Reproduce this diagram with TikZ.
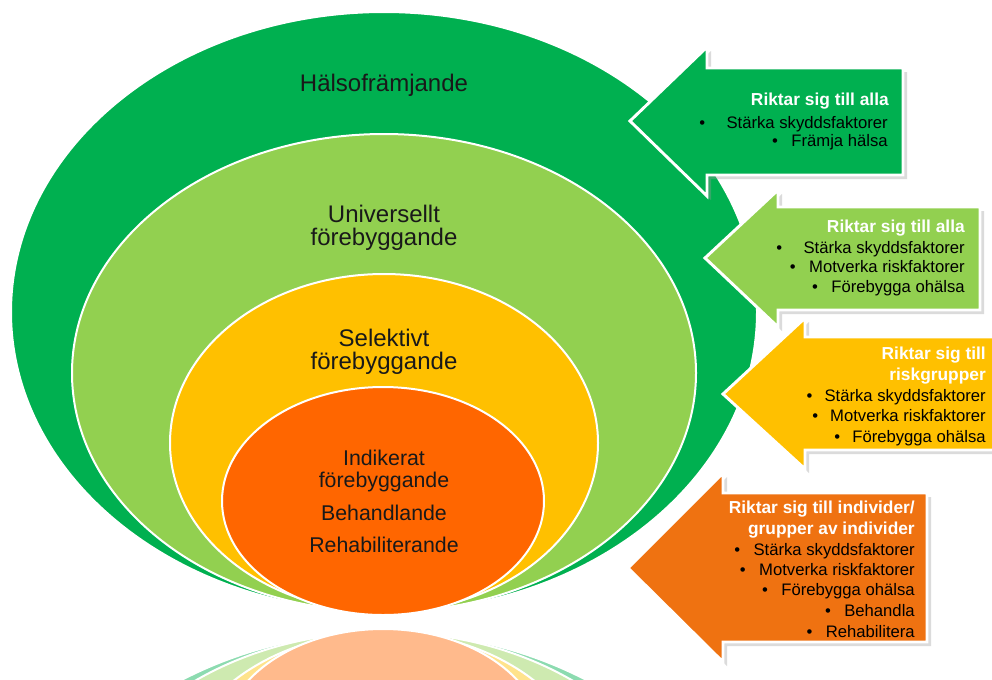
\documentclass[tikz,border=0pt]{standalone}
\usepackage{fontspec}
\setmainfont{Liberation Sans}
\definecolor{dkgreen}{HTML}{00B050}
\definecolor{ltgreen}{HTML}{92D050}
\definecolor{ylw}{HTML}{FFC000}
\definecolor{orng}{HTML}{FF6600}
\definecolor{orarrow}{HTML}{EF7211}
\begin{document}
\begin{tikzpicture}[x=0.75pt,y=-0.75pt,
  ell/.style={draw=white, line width=1.5pt},
  refl/.style={draw=white, line width=1.5pt},
  blk/.style={draw=white, line width=2.2pt, line join=miter},
  shd/.style={fill=black!40, opacity=0.35, draw=none},
  lab/.style={font=\fontsize{18}{22}\selectfont, inner sep=0pt, anchor=base, text=black!90},
  labs/.style={font=\fontsize{16}{20}\selectfont, inner sep=0pt, anchor=base, text=black!90},
  hdr/.style={font=\fontsize{13}{15}\selectfont\bfseries, text=white, inner sep=0pt, anchor=base east},
  bul/.style={font=\fontsize{12.5}{15}\selectfont, text=black, inner sep=0pt, anchor=base east}]
\useasboundingbox (0,0) rectangle (992,679);
\fill[white] (0,0) rectangle (992,679);

% nested ellipses
\draw[ell, fill=dkgreen] (384,312) ellipse [x radius=373, y radius=300];
\draw[ell, fill=ltgreen] (384,373) ellipse [x radius=312, y radius=239];
\draw[ell, fill=ylw] (384,443) ellipse [x radius=214, y radius=169];
\draw[ell, fill=orng] (383,501) ellipse [x radius=161, y radius=114];

% reflection
\begin{scope}
\clip (0,621) rectangle (992,679);
\draw[refl, fill=dkgreen!45!white] (384,932) ellipse [x radius=373, y radius=300];
\draw[refl, fill=ltgreen!45!white] (384,871) ellipse [x radius=312, y radius=239];
\draw[refl, fill=ylw!45!white] (384,801) ellipse [x radius=214, y radius=169];
\draw[refl, fill=orng!45!white] (383,743) ellipse [x radius=161, y radius=114];
\end{scope}

% ellipse labels
\node[lab] (halso) at (384,91) {Hälsofrämjande};
\node[lab] (univ1) at (384,222) {Universellt};
\node[lab] (univ2) at (384,245) {förebyggande};
\node[lab] (sel1) at (384,346) {Selektivt};
\node[lab] (sel2) at (384,369) {förebyggande};
\node[labs] (ind1) at (384,465) {Indikerat};
\node[labs] (ind2) at (384,487) {förebyggande};
\node[labs] (beh) at (384,520) {Behandlande};
\node[labs] (reh) at (384,552) {Rehabiliterande};

% arrow 1
\fill[shd] (634,125) -- (711,51) -- (711,72) -- (907,72) -- (907,179) -- (711,179) -- (711,200) -- cycle;
\draw[blk, fill=dkgreen] (630,121) -- (707,47) -- (707,68) -- (903,68) -- (903,175) -- (707,175) -- (707,196) -- cycle;
% arrow 2
\fill[shd] (709,262) -- (782,194) -- (782,211) -- (984,211) -- (984,314) -- (782,314) -- (782,331) -- cycle;
\draw[blk, fill=ltgreen] (705,258) -- (778,190) -- (778,207) -- (980,207) -- (980,310) -- (778,310) -- (778,327) -- cycle;
% arrow 3
\fill[shd] (727,398) -- (809,322) -- (809,341) -- (1000,341) -- (1000,454) -- (809,454) -- (809,473) -- cycle;
\draw[blk, fill=ylw] (723,394) -- (805,318) -- (805,337) -- (1000,337) -- (1000,450) -- (805,450) -- (805,469) -- cycle;
% arrow 4
\fill[shd] (632,572) -- (727,477) -- (727,497) -- (931,497) -- (931,646) -- (727,646) -- (727,666) -- cycle;
\draw[blk, fill=orarrow] (628,568) -- (723,473) -- (723,493) -- (927,493) -- (927,642) -- (723,642) -- (723,662) -- cycle;

% arrow 1 text
\node[hdr] (a1h) at (889,105) {Riktar sig till alla};
\node[bul] (a1b1) at (888,128) {\textbullet\hspace{16pt}Stärka skyddsfaktorer};
\node[bul] (a1b2) at (888,146) {\textbullet\hspace{10pt}Främja hälsa};
% arrow 2 text
\node[hdr] (a2h) at (965,232) {Riktar sig till alla};
\node[bul] (a2b1) at (965,253) {\textbullet\hspace{16pt}Stärka skyddsfaktorer};
\node[bul] (a2b2) at (965,272) {\textbullet\hspace{10pt}Motverka riskfaktorer};
\node[bul] (a2b3) at (965,292) {\textbullet\hspace{10pt}Förebygga ohälsa};
% arrow 3 text
\node[hdr] (a3h1) at (986,359) {Riktar sig till};
\node[hdr] (a3h2) at (986,380) {riskgrupper};
\node[bul] (a3b1) at (986,401) {\textbullet\hspace{9pt}Stärka skyddsfaktorer};
\node[bul] (a3b2) at (986,421) {\textbullet\hspace{9pt}Motverka riskfaktorer};
\node[bul] (a3b3) at (986,442) {\textbullet\hspace{9pt}Förebygga ohälsa};
% arrow 4 text
\node[hdr] (a4h1) at (915,513) {Riktar sig till individer/};
\node[hdr] (a4h2) at (915,534) {grupper av individer};
\node[bul] (a4b1) at (915,555) {\textbullet\hspace{10pt}Stärka skyddsfaktorer};
\node[bul] (a4b2) at (915,575) {\textbullet\hspace{10pt}Motverka riskfaktorer};
\node[bul] (a4b3) at (915,595) {\textbullet\hspace{10pt}Förebygga ohälsa};
\node[bul] (a4b4) at (915,616) {\textbullet\hspace{10pt}Behandla};
\node[bul] (a4b5) at (915,637) {\textbullet\hspace{10pt}Rehabilitera};
\end{tikzpicture}
\end{document}
